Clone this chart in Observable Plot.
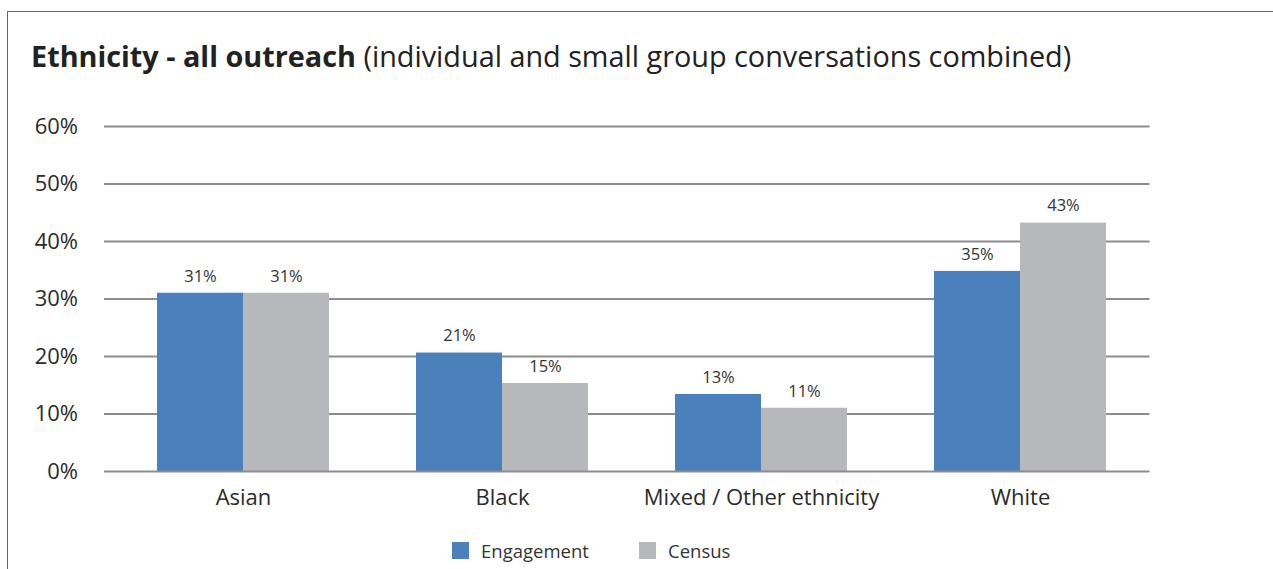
<!DOCTYPE html>
<html>
<head>
<meta charset="utf-8">
<script src="https://cdn.jsdelivr.net/npm/d3@7"></script>
<script src="https://cdn.jsdelivr.net/npm/@observablehq/plot@0.6"></script>
<style>
  html, body { margin: 0; padding: 0; background: #fff; width: 1273px; height: 569px; overflow: hidden; font-family: "Open Sans", sans-serif; color: #2b2b2b; }
  .frame { position: absolute; left: 7px; top: 11px; width: 1300px; height: 700px; border-left: 1.5px solid #666; border-top: 1.5px solid #666; }
  .title { position: absolute; left: 31px; top: 42px; font-size: 28.8px; white-space: nowrap; color: #222; line-height: 1; }
  .title b { font-weight: 700; }
  #chart { position: absolute; left: 0; top: 0; }
  .legend { position: absolute; top: 538px; left: 0; font-size: 18.5px; color: #333; }
  .legend .item { position: absolute; display: flex; align-items: center; white-space: nowrap; }
  .legend .sw { width: 17px; height: 17px; margin-right: 12px; }
</style>
</head>
<body>
<div class="frame"></div>
<div class="title"><b>Ethnicity - all outreach</b> (individual and small group conversations combined)</div>
<div id="chart"></div>
<div class="legend" id="legend"></div>
<script>
const categories = ["Asian", "Black", "Mixed / Other ethnicity", "White"];
const engagement = [31.0, 20.6, 13.4, 34.8];
const census = [31.0, 15.3, 11.0, 43.2];
const seriesNames = ["Engagement", "Census"];
const seriesColors = ["#4a81bd", "#b7b8bc"];
const yTicks = [0, 10, 20, 30, 40, 50, 60];

const engRows = categories.map((c, i) => ({category: c, value: engagement[i]}));
const cenRows = categories.map((c, i) => ({category: c, value: census[i]}));

const W = 1273, H = 520;
const mL = 113.5, mR = W - 1149.5, mT = 126, mB = H - 471;
const innerW = W - mL - mR;
const step = innerW / 4;
const bandW = 172;
const half = bandW / 2;

const plot = Plot.plot({
  width: W,
  height: H,
  marginLeft: mL,
  marginRight: mR,
  marginTop: mT,
  marginBottom: mB,
  style: {fontFamily: "'Open Sans', sans-serif", color: "#2b2b2b", background: "transparent", overflow: "visible"},
  x: {domain: categories, paddingInner: 1 - bandW / step, paddingOuter: (1 - bandW / step) / 2, label: null, axis: null},
  y: {domain: [0, 60], label: null, axis: null},
  marks: [
    Plot.ruleY(yTicks.filter(d => d > 0), {stroke: "#8c8c8e", strokeWidth: 2, insetLeft: -9.5, insetRight: 0}),
    Plot.barY(engRows, {x: "category", y: "value", fill: seriesColors[0], insetRight: half}),
    Plot.barY(cenRows, {x: "category", y: "value", fill: seriesColors[1], insetLeft: half}),
    Plot.ruleY([0], {stroke: "#8c8c8e", strokeWidth: 2, insetLeft: -9.5, insetRight: 0}),
    Plot.text(engRows, {x: "category", y: "value", text: d => Math.round(d.value) + "%", dx: -half / 2, dy: -17, fontSize: 16.5, fill: "#333"}),
    Plot.text(cenRows, {x: "category", y: "value", text: d => Math.round(d.value) + "%", dx: half / 2, dy: -17, fontSize: 16.5, fill: "#333"}),
    Plot.axisY(yTicks, {tickSize: 0, tickPadding: 36, tickFormat: d => d + "%", fontSize: 22, fill: "#2b2b2b", label: null}),
    Plot.axisX({tickSize: 0, tickPadding: 18, fontSize: 22, fill: "#2b2b2b", label: null})
  ]
});
document.getElementById("chart").appendChild(plot);

const legend = document.getElementById("legend");
const legendX = [452, 639];
seriesNames.forEach((name, i) => {
  const item = document.createElement("div");
  item.className = "item";
  item.style.left = legendX[i] + "px";
  const sw = document.createElement("div");
  sw.className = "sw";
  sw.style.background = seriesColors[i];
  const t = document.createElement("span");
  t.textContent = name;
  item.appendChild(sw);
  item.appendChild(t);
  legend.appendChild(item);
});
</script>
</body>
</html>
